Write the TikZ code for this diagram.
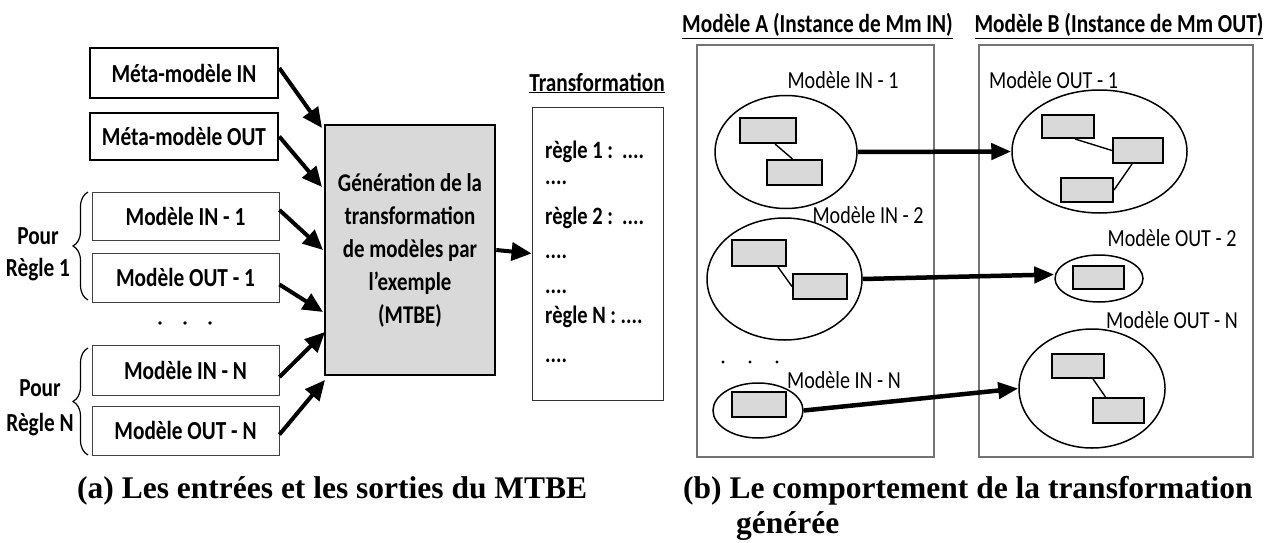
\documentclass[tikz,border=0pt]{standalone}
\usepackage{fontspec}
\setmainfont{Carlito}[FakeStretch=0.82]
\newfontfamily\capfont{Liberation Serif}
\usetikzlibrary{arrows.meta,shapes.geometric,decorations.pathreplacing,calc}
\definecolor{boxgray}{HTML}{D9D9D9}
\tikzset{
  bfont/.style={font=\fontsize{26}{30}\selectfont\bfseries},
  rfont/.style={font=\fontsize{24.5}{28}\selectfont},
  thickbox/.style={draw, line width=2.6pt, minimum width=188pt, inner sep=0pt, bfont},
  thinbox/.style={draw=black!75, line width=0.9pt, minimum width=187pt, inner sep=0pt, bfont},
  bigarrow/.style={line width=4pt, -{Triangle[length=20pt,width=18pt]}},
  modarrow/.style={line width=4.5pt, -{Triangle[length=20pt,width=16pt]}},
  brace/.style={decorate, decoration={brace, amplitude=15pt}, line width=1.2pt},
  frame/.style={draw=black!55, line width=1.3pt, inner sep=0pt},
  blob/.style={ellipse, draw, line width=1.5pt, inner sep=0pt},
  cell/.style={draw, line width=2pt, fill=boxgray, inner sep=0pt},
  link/.style={line width=1.4pt},
  trline/.style={font=\fontsize{25}{30}\selectfont\bfseries, anchor=base west, inner sep=0pt},
  caption/.style={font=\capfont\bfseries\fontsize{31.5}{36}\selectfont, anchor=base west, inner sep=0pt}
}
\begin{document}
\begin{tikzpicture}[x=1pt,y=-1pt]
\useasboundingbox (0,0) rectangle (1271,543);

% ---------- (a) left part ----------
\node[thickbox, minimum height=50pt] (min)  at (184,73)    {Méta-modèle IN};
\node[thickbox, minimum height=47pt] (mout) at (184,136.5) {Méta-modèle OUT};
\node[thinbox, minimum height=48pt]  (in1)  at (185.5,216)   {Modèle IN - 1};
\node[thinbox, minimum height=49pt]  (out1) at (185.5,277.5) {Modèle OUT - 1};
\node[thinbox, minimum height=50pt]  (inn)  at (185.5,370)   {Modèle IN - N};
\node[thinbox, minimum height=49pt]  (outn) at (185.5,430.5) {Modèle OUT - N};

\fill (160,323) circle (1.8pt) (185,323) circle (1.8pt) (210,323) circle (1.8pt);

\node[font=\fontsize{26}{32}\selectfont\bfseries, align=center, inner sep=0pt] (pour1) at (38,254) {Pour\\Règle 1};
\node[font=\fontsize{26}{35}\selectfont\bfseries, align=center, inner sep=0pt] (pourn) at (40,407.5) {Pour\\Règle N};
\draw[brace] (88,300) -- (88,192);
\draw[brace] (88,455) -- (88,348);

\node[draw, line width=2.6pt, fill=boxgray, minimum width=170pt, minimum height=250pt,
      inner sep=0pt, align=center, font=\fontsize{25.5}{33}\selectfont\bfseries] (gen) at (410,250)
  {Génération de la\\transformation\\de modèles par\\l’exemple\\(MTBE)};

\coordinate (a1) at (322,128);
\coordinate (a2) at (322,187);
\coordinate (a3) at (323,250);
\coordinate (a4) at (323,312);
\coordinate (a5) at (325,332);
\coordinate (a6) at (325,380);
\draw[bigarrow] ([yshift=5pt]min.east) -- (a1);
\draw[bigarrow] (mout.east) -- (a2);
\draw[bigarrow] ([yshift=6pt]in1.east) -- (a3);
\draw[bigarrow] ([yshift=-7pt]out1.east) -- (a4);
\draw[bigarrow] ([yshift=-7pt]inn.east) -- (a5);
\draw[bigarrow] ([yshift=-4pt]outn.east) -- (a6);

\node[draw=black!80, line width=0.9pt, minimum width=131pt, minimum height=293pt, inner sep=0pt] (trans) at (597.5,253.5) {};
\node[bfont, anchor=base, inner sep=0pt] (ttitle) at (597,91) {\underline{Transformation}};
\draw[bigarrow] (gen.east) -- (trans.west);

\node[trline] (r1) at (545,158) {règle 1 :~~....};
\node[trline] (d1) at (545,184) {....};
\node[trline] (r2) at (545,224) {règle 2 :~~....};
\node[trline] (d2) at (545,258) {....};
\node[trline] (d3) at (545,293) {....};
\node[trline] (rn) at (545,323) {règle N : ....};
\node[trline] (d4) at (545,362) {....};

% ---------- (b) right part ----------
\node[frame, minimum width=237pt, minimum height=412pt] (boxA) at (815.5,251) {};
\node[frame, minimum width=274pt, minimum height=412pt] (boxB) at (1116,251) {};
\node[bfont, anchor=base, inner sep=0pt] (titleA) at (817.5,33) {\underline{Modèle A (Instance de Mm IN)}};
\node[bfont, anchor=base, inner sep=0pt] (titleB) at (1119,33) {\underline{Modèle B (Instance de Mm OUT)}};

\node[rfont, inner sep=0pt] (lin1)  at (843,80)   {Modèle IN - 1};
\node[rfont, inner sep=0pt] (lin2)  at (868,215)  {Modèle IN - 2};
\node[rfont, inner sep=0pt] (linn)  at (844,380)  {Modèle IN - N};
\node[rfont, inner sep=0pt] (lout1) at (1053.5,80) {Modèle OUT - 1};
\node[rfont, inner sep=0pt] (lout2) at (1172,238) {Modèle OUT - 2};
\node[rfont, inner sep=0pt] (loutn) at (1172,320) {Modèle OUT - N};

\fill (723,362) circle (1.6pt) (750,362) circle (1.6pt) (777,362) circle (1.6pt);

% ellipses
\node[blob, minimum width=142pt, minimum height=113pt] (e1) at (786,152) {};
\node[blob, minimum width=155pt, minimum height=122pt] (e2) at (784.5,279) {};
\node[blob, minimum width=90pt,  minimum height=55pt]  (eN) at (758,410.5) {};
\node[blob, minimum width=175pt, minimum height=123pt] (o1) at (1099.5,151.5) {};
\node[blob, minimum width=88pt,  minimum height=47pt]  (o2) at (1099,278.5) {};
\node[blob, minimum width=146pt, minimum height=119pt] (oN) at (1092,388.5) {};

% cells
\node[cell, minimum width=56pt, minimum height=25pt] (e1a) at (768,130.5) {};
\node[cell, minimum width=55pt, minimum height=25pt] (e1b) at (794.5,172.5) {};
\node[cell, minimum width=54pt, minimum height=26pt] (e2a) at (759,253) {};
\node[cell, minimum width=54pt, minimum height=25pt] (e2b) at (820,286.5) {};
\node[cell, minimum width=54pt, minimum height=25pt] (eNa) at (759,404.5) {};
\node[cell, minimum width=52pt, minimum height=23pt] (o1a) at (1068,126.5) {};
\node[cell, minimum width=50pt, minimum height=25pt] (o1b) at (1138,150.5) {};
\node[cell, minimum width=52pt, minimum height=24pt] (o1c) at (1087,190) {};
\node[cell, minimum width=51pt, minimum height=23pt] (o2a) at (1098.5,277.5) {};
\node[cell, minimum width=52pt, minimum height=24pt] (oNa) at (1078,366) {};
\node[cell, minimum width=51pt, minimum height=25pt] (oNb) at (1118.5,410.5) {};

\draw[link] ([xshift=7pt]e1a.south) -- ([xshift=-2pt]e1b.north);
\draw[link] ([xshift=19pt]e2a.south) -- (e2b.west);
\draw[link] ([xshift=7pt]o1a.south) -- (o1b.west);
\draw[link] ([xshift=-6pt]o1b.south) -- (o1c.east);
\draw[link] ([xshift=15pt]oNa.south) -- ([xshift=-13pt]oNb.north);

\draw[modarrow] (e1.east) -- (o1.west);
\draw[modarrow] (e2.east) -- ([yshift=4pt]o2.west);
\draw[modarrow] (eN.east) -- (oN.west);

% ---------- captions ----------
\node[caption] (capa) at (77,498) {(a) Les entrées et les sorties du MTBE};
\node[caption] (capb) at (683,498) {(b) Le comportement de la transformation};
\node[caption] (capb2) at (736,533) {générée};
\end{tikzpicture}
\end{document}
